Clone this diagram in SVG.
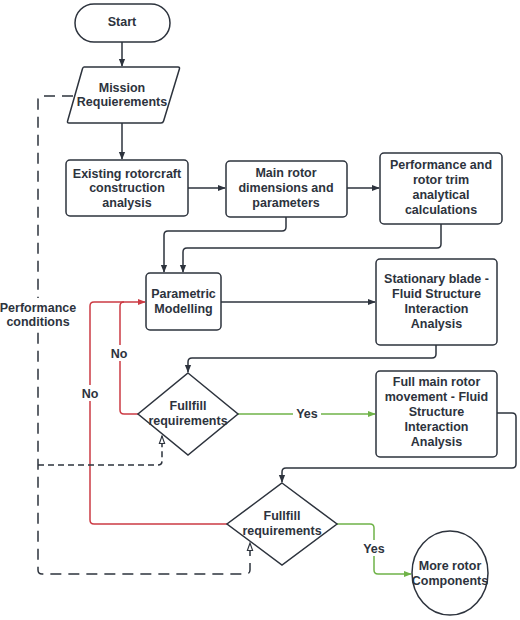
<svg xmlns="http://www.w3.org/2000/svg" width="520" height="620" viewBox="0 0 520 620">
<defs>
<style>
.n{fill:#fff;stroke:#2d333d;stroke-width:1.5}
.t{font-family:"Liberation Sans",Arial,sans-serif;font-weight:bold;font-size:12.5px;fill:#2d333d;text-anchor:middle}
.c{fill:none;stroke:#2d333d;stroke-width:1.5;stroke-linejoin:round}
.r{fill:none;stroke:#cc3b44;stroke-width:1.5;stroke-linejoin:round}
.g{fill:none;stroke:#6fb348;stroke-width:1.5;stroke-linejoin:round}
.d1{fill:none;stroke:#2d333d;stroke-width:1.5;stroke-dasharray:11 7}
.d2{fill:none;stroke:#2d333d;stroke-width:1.5;stroke-dasharray:6 4}
</style>
<marker id="a" viewBox="0 0 10 10" refX="9" refY="5" markerWidth="8" markerHeight="8" markerUnits="userSpaceOnUse" orient="auto"><path d="M0,1 L10,5 L0,9 Z" fill="#2d333d"/></marker>
<marker id="ar" viewBox="0 0 10 10" refX="9" refY="5" markerWidth="8" markerHeight="8" markerUnits="userSpaceOnUse" orient="auto"><path d="M0,1 L10,5 L0,9 Z" fill="#cc3b44"/></marker>
<marker id="ag" viewBox="0 0 10 10" refX="9" refY="5" markerWidth="8" markerHeight="8" markerUnits="userSpaceOnUse" orient="auto"><path d="M0,1 L10,5 L0,9 Z" fill="#6fb348"/></marker>
<marker id="ah" viewBox="0 0 12 10" refX="11" refY="5" markerWidth="9" markerHeight="8" markerUnits="userSpaceOnUse" orient="auto"><path d="M1,1.5 L11,5 L1,8.5 Z" fill="#fff" stroke="#2d333d" stroke-width="1.5"/></marker>
</defs>
<rect width="520" height="620" fill="#fff"/>

<g id="connectors">
<path class="c" d="M122,42 V66" marker-end="url(#a)"/>
<path class="c" d="M122,123 V159" marker-end="url(#a)"/>
<path class="c" d="M188,188 H225" marker-end="url(#a)"/>
<path class="c" d="M347,188 H379" marker-end="url(#a)"/>
<path class="c" d="M286,217 V227 Q286,231 282,231 H168 Q164,231 164,235 V272" marker-end="url(#a)"/>
<path class="c" d="M441,224 V244 Q441,248 437,248 H187 Q183,248 183,252 V272" marker-end="url(#a)"/>
<path class="c" d="M221,302 H375" marker-end="url(#a)"/>
<path class="c" d="M436,345 V354 Q436,358 432,358 H192 Q188,358 188,362 V372" marker-end="url(#a)"/>
<path class="c" d="M497,413 H512 Q516,413 516,417 V464 Q516,468 512,468 H286 Q282,468 282,472 V482" marker-end="url(#a)"/>
<path class="r" d="M138,414 H124 Q120,414 120,410 V306 Q120,302 124,302 H145" marker-end="url(#ar)"/>
<path class="r" d="M227,524 H94 Q90,524 90,520 V306 Q90,302 94,302 H124"/>
<path class="g" d="M238,414 H375" marker-end="url(#ag)"/>
<path class="g" d="M337,524 H370 Q374,524 374,528 V570 Q374,574 378,574 H411" marker-end="url(#ag)"/>
<path class="d1" d="M73,96 H42 Q38,96 38,100 V570 Q38,574 42,574 H246 Q250,574 250,570 V543" marker-end="url(#ah)"/>
<path class="d2" d="M38,465 H158 Q162,465 162,461 V436" marker-end="url(#ah)"/>
<rect x="107" y="345" width="24" height="16" fill="#fff"/>
<text class="t" x="119" y="357.5">No</text>
<rect x="78" y="385" width="24" height="16" fill="#fff"/>
<text class="t" x="90" y="397.5">No</text>
<rect x="293" y="405" width="28" height="16" fill="#fff"/>
<text class="t" x="307" y="417.5">Yes</text>
<rect x="360" y="540" width="28" height="16" fill="#fff"/>
<text class="t" x="374" y="552.5">Yes</text>
<rect x="0" y="298" width="76" height="32" fill="#fff"/>
<text class="t" x="38" y="311.5">Performance</text>
<text class="t" x="38" y="325.5">conditions</text>
</g>

<g id="start">
<rect class="n" x="75" y="4" width="95" height="38" rx="19"/>
<text class="t" x="122" y="25.5">Start</text>
</g>
<g id="mission">
<path class="n" d="M84,67 H178 Q180,67 179.4,69 L163.6,121 Q163,123 161,123 H69 Q67,123 67.6,121 L82.4,69 Q83,67 84,67 Z"/>
<text class="t" x="122" y="91.5">Mission</text>
<text class="t" x="122" y="105.5">Requierements</text>
</g>
<g id="existing">
<rect class="n" x="66" y="160" width="122" height="56" rx="4"/>
<text class="t" x="127" y="177.5">Existing rotorcraft</text>
<text class="t" x="127" y="191.5">construction</text>
<text class="t" x="127" y="206.5">analysis</text>
</g>
<g id="mainrotor">
<rect class="n" x="226" y="161" width="121" height="56" rx="4"/>
<text class="t" x="286" y="176.5">Main rotor</text>
<text class="t" x="286" y="191.5">dimensions and</text>
<text class="t" x="286" y="206.5">parameters</text>
</g>
<g id="performance">
<rect class="n" x="380" y="153" width="122" height="71" rx="4"/>
<text class="t" x="441" y="168.5">Performance and</text>
<text class="t" x="441" y="183.5">rotor trim</text>
<text class="t" x="441" y="198.5">analytical</text>
<text class="t" x="441" y="213.5">calculations</text>
</g>
<g id="parametric">
<rect class="n" x="146" y="273" width="75" height="57" rx="4"/>
<text class="t" x="183.5" y="297.5">Parametric</text>
<text class="t" x="183.5" y="312.5">Modelling</text>
</g>
<g id="stationary">
<rect class="n" x="376" y="259" width="121" height="86" rx="4"/>
<text class="t" x="436.5" y="282.5">Stationary blade -</text>
<text class="t" x="436.5" y="297.5">Fluid Structure</text>
<text class="t" x="436.5" y="312.5">Interaction</text>
<text class="t" x="436.5" y="327.5">Analysis</text>
</g>
<g id="decision1">
<path class="n" d="M188,373 L238,414 L188,455 L138,414 Z"/>
<text class="t" x="188" y="409.5">Fullfill</text>
<text class="t" x="188" y="425">requirements</text>
</g>
<g id="fullmain">
<rect class="n" x="376" y="371" width="121" height="86" rx="4"/>
<text class="t" x="436.5" y="386">Full main rotor</text>
<text class="t" x="436.5" y="400.5">movement - Fluid</text>
<text class="t" x="436.5" y="416">Structure</text>
<text class="t" x="436.5" y="431">Interaction</text>
<text class="t" x="436.5" y="446">Analysis</text>
</g>
<g id="decision2">
<path class="n" d="M282,483 L337,524 L282,565 L227,524 Z"/>
<text class="t" x="282" y="519.5">Fullfill</text>
<text class="t" x="282" y="534.5">requirements</text>
</g>
<g id="more">
<ellipse class="n" cx="450" cy="573" rx="38" ry="42"/>
<text class="t" x="450" y="569.5">More rotor</text>
<text class="t" x="450" y="584.5">Components</text>
</g>
</svg>
